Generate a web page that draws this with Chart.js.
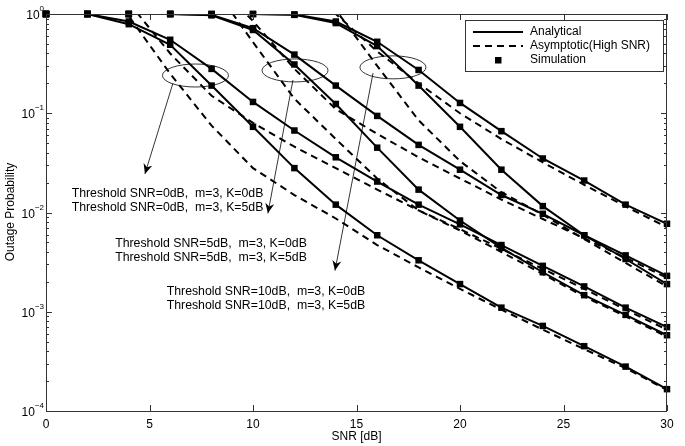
<!DOCTYPE html>
<html>
<head>
<meta charset="utf-8">
<script src="https://cdn.jsdelivr.net/npm/chart.js@4.4.0/dist/chart.umd.min.js"></script>
<style>
html, body { margin: 0; padding: 0; background: #fff; }
#wrap { width: 685px; height: 446px; }
</style>
</head>
<body>
<div id="wrap"><canvas id="outageChart" width="685" height="446"></canvas></div>
<script>
// SNR grid [dB]
var snr = [0, 2, 4, 6, 8, 10, 12, 14, 16, 18, 20, 22, 24, 26, 28, 30];

// analytical outage probability (solid)
var anaT0a = [1, 1, 0.84, 0.55, 0.28, 0.13, 0.067, 0.036, 0.0205, 0.012, 0.0076, 0.0047, 0.0029, 0.0018, 0.0011, 0.0007];
var anaT0b = [1, 1, 0.79, 0.49, 0.19, 0.073, 0.028, 0.012, 0.0059, 0.0033, 0.0019, 0.0011, 0.00072, 0.00045, 0.00028, 0.000166];
var anaT5a = [1, 1, 1, 1, 0.98, 0.72, 0.39, 0.19, 0.094, 0.048, 0.027, 0.015, 0.0097, 0.0059, 0.0037, 0.0023];
var anaT5b = [1, 1, 1, 1, 0.97, 0.69, 0.31, 0.124, 0.045, 0.017, 0.0083, 0.0044, 0.0025, 0.00147, 0.00093, 0.00058];
var anaT10a = [1, 1, 1, 1, 1, 1, 0.99, 0.84, 0.525, 0.273, 0.127, 0.066, 0.035, 0.021, 0.012, 0.0077];
var anaT10b = [1, 1, 1, 1, 1, 1, 0.98, 0.81, 0.475, 0.19, 0.073, 0.027, 0.0116, 0.0059, 0.0034, 0.0019];

// asymptotic (high SNR) approximation (dashed); null = above the plot
var asyT0a = [null, 5, 1.3, 0.4, 0.15, 0.08, 0.046, 0.028, 0.017, 0.0105, 0.0068, 0.0043, 0.0027, 0.0017, 0.00105, 0.00066];
var asyT0b = [null, 5, 0.95, 0.25, 0.075, 0.028, 0.015, 0.0087, 0.0047, 0.0028, 0.0017, 0.00105, 0.00066, 0.00042, 0.00027, 0.000163];
var asyT5a = [null, null, null, 8, 2.2, 0.85, 0.28, 0.11, 0.062, 0.036, 0.022, 0.0135, 0.0086, 0.0055, 0.0035, 0.0022];
var asyT5b = [null, null, null, 8, 2.0, 0.52, 0.14, 0.055, 0.022, 0.0105, 0.0066, 0.004, 0.0024, 0.00142, 0.0009, 0.00056];
var asyT10a = [null, null, null, null, null, null, 3, 1.0, 0.42, 0.2, 0.1, 0.055, 0.032, 0.019, 0.0115, 0.0071];
var asyT10b = [null, null, null, null, null, null, 5, 1.1, 0.3, 0.085, 0.033, 0.016, 0.0095, 0.0054, 0.0031, 0.0018];

// simulation points (squares)
var simT0a = anaT0a, simT0b = anaT0b, simT5a = anaT5a, simT5b = anaT5b, simT10a = anaT10a, simT10b = anaT10b;

var xTicks = [0, 5, 10, 15, 20, 25, 30];
var yDecades = [0, -1, -2, -3, -4];
var legendLabels = ["Analytical", "Asymptotic(High SNR)", "Simulation"];
var noteLines = [
    ["Threshold SNR=0dB,  m=3, K=0dB", "Threshold SNR=0dB,  m=3, K=5dB"],
    ["Threshold SNR=5dB,  m=3, K=0dB", "Threshold SNR=5dB,  m=3, K=5dB"],
    ["Threshold SNR=10dB,  m=3, K=0dB", "Threshold SNR=10dB,  m=3, K=5dB"]
];

var FONT = "'Liberation Sans', Arial, Helvetica, sans-serif";

function pts(ys) {
    var out = [];
    for (var i = 0; i < snr.length; i++)
        if (ys[i] != null) out.push({ x: snr[i], y: ys[i] });
    return out;
}

var datasets = [];
[anaT0a, anaT0b, anaT5a, anaT5b, anaT10a, anaT10b].forEach(function (d) {
    datasets.push({ data: pts(d), borderColor: "#000", borderWidth: 2, pointRadius: 0, fill: false });
});
[asyT0a, asyT0b, asyT5a, asyT5b, asyT10a, asyT10b].forEach(function (d) {
    datasets.push({ data: pts(d), borderColor: "#000", borderWidth: 2, borderDash: [7, 5], pointRadius: 0, fill: false });
});
[simT0a, simT0b, simT5a, simT5b, simT10a, simT10b].forEach(function (d) {
    datasets.push({ data: pts(d), showLine: false, pointStyle: "rect", pointRadius: 4.6,
        backgroundColor: "#000", borderColor: "#000", borderWidth: 0, clip: false });
});

// annotation anchors in data units (snr, probability)
var ellipses = [[7.22, 0.24], [12.03, 0.27], [16.76, 0.29]];
var arrows = [
    [[6.13, 0.2], [4.78, 0.0245]],
    [[11.93, 0.216], [10.72, 0.0098]],
    [[15.8, 0.254], [13.96, 0.0026]]
];
var notePos = [[1.24, 0.0143], [3.34, 0.00445], [5.83, 0.00146]];

function arrowHead(ctx, x1, y1, x2, y2) {
    var a = Math.atan2(y2 - y1, x2 - x1), L = 10, W = 4.5;
    ctx.save();
    ctx.translate(x2, y2);
    ctx.rotate(a);
    ctx.beginPath();
    ctx.moveTo(0, 0);
    ctx.lineTo(-L, -W);
    ctx.lineTo(-L + 3, 0);
    ctx.lineTo(-L, W);
    ctx.closePath();
    ctx.fill();
    ctx.restore();
}

var matlabLook = {
    id: "matlabLook",
    afterDatasetsDraw: function (chart) {
        var ctx = chart.ctx, xs = chart.scales.x, ys = chart.scales.y, a = chart.chartArea;
        ctx.save();

        // annotations
        ctx.strokeStyle = "#000";
        ctx.fillStyle = "#000";
        ctx.lineWidth = 0.8;
        ellipses.forEach(function (e) {
            ctx.beginPath();
            ctx.ellipse(xs.getPixelForValue(e[0]), ys.getPixelForValue(e[1]), 33, 11.5, 0, 0, Math.PI * 2);
            ctx.stroke();
        });
        arrows.forEach(function (r) {
            var x1 = xs.getPixelForValue(r[0][0]), y1 = ys.getPixelForValue(r[0][1]);
            var x2 = xs.getPixelForValue(r[1][0]), y2 = ys.getPixelForValue(r[1][1]);
            ctx.beginPath();
            ctx.moveTo(x1, y1);
            ctx.lineTo(x2, y2);
            ctx.stroke();
            arrowHead(ctx, x1, y1, x2, y2);
        });
        ctx.font = "12.3px " + FONT;
        ctx.textAlign = "left";
        ctx.textBaseline = "alphabetic";
        noteLines.forEach(function (lines, k) {
            var x = xs.getPixelForValue(notePos[k][0]), y = ys.getPixelForValue(notePos[k][1]);
            ctx.fillText(lines[0], x, y);
            ctx.fillText(lines[1], x, y + 14);
        });

        // axes box
        ctx.strokeStyle = "#333";
        ctx.lineWidth = 1;
        ctx.strokeRect(a.left + 0.5, a.top + 0.5, a.right - a.left - 1, a.bottom - a.top);

        // x ticks (inward, bottom and top)
        ctx.beginPath();
        xTicks.forEach(function (t) {
            var px = Math.round(xs.getPixelForValue(t)) + 0.5;
            ctx.moveTo(px, a.bottom); ctx.lineTo(px, a.bottom - 6);
            ctx.moveTo(px, a.top); ctx.lineTo(px, a.top + 6);
        });
        // y ticks (log, major + minor, left and right)
        yDecades.forEach(function (d) {
            for (var m = 1; m <= 9; m++) {
                var v = m * Math.pow(10, d);
                if (v > 1.0001 || v < 0.99e-4) continue;
                var py = Math.round(ys.getPixelForValue(v)) + 0.5;
                var len = m === 1 ? 6 : 3;
                ctx.moveTo(a.left, py); ctx.lineTo(a.left + len, py);
                ctx.moveTo(a.right, py); ctx.lineTo(a.right - len, py);
            }
        });
        ctx.stroke();

        // tick labels
        ctx.fillStyle = "#000";
        ctx.font = "12px " + FONT;
        ctx.textAlign = "center";
        ctx.textBaseline = "alphabetic";
        xTicks.forEach(function (t) {
            ctx.fillText(String(t), xs.getPixelForValue(t), a.bottom + 17);
        });
        yDecades.forEach(function (d) {
            var py = ys.getPixelForValue(Math.pow(10, d));
            var sup = d === 0 ? "0" : "\u2212" + (-d);
            ctx.font = "8px " + FONT;
            var sw = ctx.measureText(sup).width;
            ctx.textAlign = "right";
            ctx.fillText(sup, a.left - 2, py - 3);
            ctx.font = "12px " + FONT;
            ctx.fillText("10", a.left - 2 - sw, py + 5);
        });

        // axis titles
        ctx.textAlign = "center";
        ctx.font = "12px " + FONT;
        ctx.fillText("SNR [dB]", (a.left + a.right) / 2, a.bottom + 29);
        ctx.save();
        ctx.translate(14, 212);
        ctx.rotate(-Math.PI / 2);
        ctx.fillText("Outage Probability", 0, 0);
        ctx.restore();

        // legend box
        var lx = 465.5, ly = 20.5, lw = 198, lh = 51;
        ctx.fillStyle = "#fff";
        ctx.fillRect(lx, ly, lw, lh);
        ctx.strokeStyle = "#333";
        ctx.lineWidth = 1;
        ctx.strokeRect(lx, ly, lw, lh);
        ctx.strokeStyle = "#000";
        ctx.lineWidth = 2;
        ctx.beginPath(); ctx.moveTo(473, 32); ctx.lineTo(523, 32); ctx.stroke();
        ctx.setLineDash([7, 5]);
        ctx.beginPath(); ctx.moveTo(473, 46); ctx.lineTo(523, 46); ctx.stroke();
        ctx.setLineDash([]);
        ctx.fillStyle = "#000";
        ctx.fillRect(495, 57, 6.5, 6.5);
        ctx.textAlign = "left";
        ctx.textBaseline = "middle";
        legendLabels.forEach(function (s, i) {
            ctx.fillText(s, 530, 32 + i * 14);
        });

        ctx.restore();
    }
};

var chart = new Chart("outageChart", {
    type: "line",
    data: { datasets: datasets },
    options: {
        responsive: false,
        animation: false,
        devicePixelRatio: 1,
        layout: { padding: { left: 46, right: 18, top: 14, bottom: 35 } },
        plugins: { legend: { display: false }, tooltip: { enabled: false } },
        elements: { line: { tension: 0 } },
        scales: {
            x: { type: "linear", min: 0, max: 30, display: false },
            y: { type: "logarithmic", min: 1e-4, max: 1, display: false }
        }
    },
    plugins: [matlabLook]
});
</script>
</body>
</html>
